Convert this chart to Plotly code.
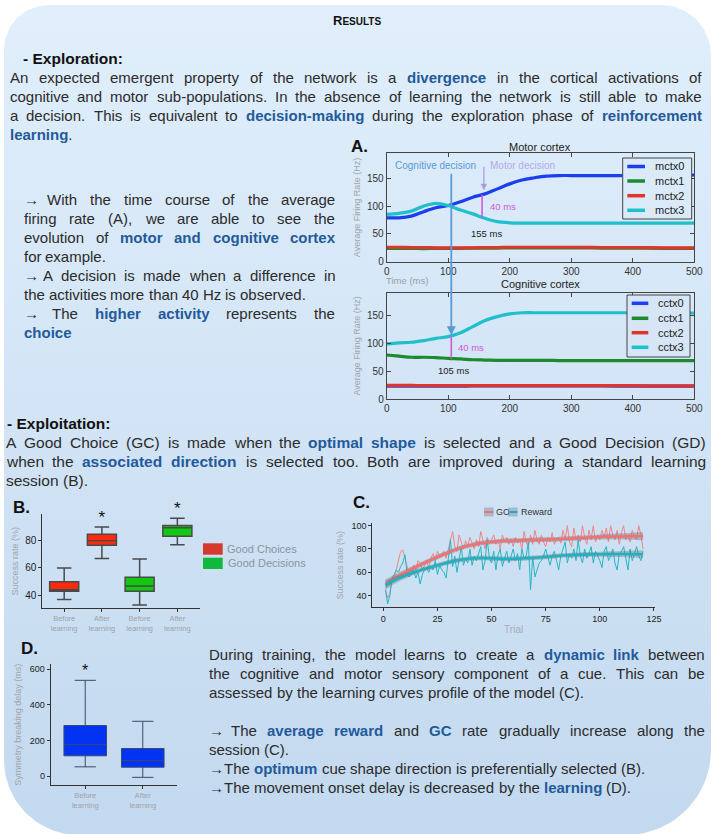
import numpy as np
import plotly.graph_objects as go

W, H = 713, 834
FONT = "Liberation Sans, Arial, DejaVu Sans, sans-serif"
HL = "#245a9a"
TXT = "#2b2b2b"

# -----------------------------------------------------------------------------
# -- A. average firing rates (Hz) over time (ms)
time_ms = [0, 20, 40, 60, 80, 100, 120, 140, 160, 180, 200, 220, 240, 260, 280, 300, 350, 400, 450, 500]
mctx0 = [79, 79, 82, 90, 97, 101, 108, 116, 122, 131, 140, 147, 151, 154, 155, 155, 155, 155, 155, 156]
mctx1 = [24, 24, 24, 23.5, 24, 24, 24, 24.5, 24.5, 24.5, 25, 25, 25, 25, 25, 25, 24.5, 24.5, 24, 24]
mctx2 = [26, 26, 25.5, 25.5, 25, 25, 25, 25, 25.5, 25.5, 26, 26, 26, 26, 26, 26, 25.5, 25.5, 25, 25]
mctx3 = [85, 87, 91, 100, 105, 101, 93, 86, 78, 72, 70, 69.5, 69.5, 69.5, 69.5, 69.5, 69.5, 69.5, 69.5, 69.5]

cctx0 = [23, 23, 23, 23, 23, 23, 23, 23.5, 23.5, 23.5, 23.5, 23.5, 23.5, 23.5, 23.5, 23.5, 23.5, 23, 23, 23]
cctx1 = [79, 77, 75, 75, 74.5, 73, 72, 70.5, 70, 69.5, 69.5, 69.5, 69.5, 69.5, 69, 69, 69, 69, 69, 69]
cctx2 = [24.5, 24.5, 24.5, 24, 24, 24, 24, 24, 24, 24, 24, 24, 24, 24, 24, 24, 24, 24, 23.5, 23.5]
cctx3 = [99, 101, 102, 105, 109, 112, 119, 130, 141, 148, 153, 155, 155, 155, 155, 155, 155, 155, 154.5, 154.5]

cognitive_decision_ms = 105
motor_decision_ms = 155

# -- B. success rates (%) before / after learning
b_labels = ["Before<br>learning", "After<br>learning", "Before<br>learning", "After<br>learning"]
b_low = [37, 67, 33, 77]
b_q1 = [43, 76.6, 43, 83.2]
b_med = [44, 80, 46.8, 89.5]
b_q3 = [50, 84.7, 53.2, 91]
b_high = [60, 90, 66.6, 96.4]
b_signif = [False, True, False, True]

# -- C. learning curves (%) per trial
trials = list(range(1, 121))
gc_raw = [45, 38, 42, 52, 55, 62, 70, 78, 79, 72,
          63, 58, 60, 66, 62, 70, 68, 62, 66, 70,
          64, 72, 76, 70, 78, 74, 76, 78, 72, 80,
          86, 95, 82, 78, 92, 85, 80, 87, 83, 90,
          84, 80, 88, 82, 95, 86, 80, 90, 85, 88,
          92, 84, 88, 80, 92, 86, 90, 84, 88, 82,
          90, 85, 88, 80, 95, 86, 82, 92, 84, 96,
          88, 84, 92, 86, 82, 90, 86, 94, 84, 88,
          90, 85, 96, 88, 100, 86, 82, 98, 88, 92,
          86, 100, 90, 84, 96, 88, 100, 86, 92, 88,
          96, 90, 98, 86, 100, 92, 88, 96, 84, 94,
          100, 88, 92, 86, 96, 90, 88, 100, 92, 80]
reward_raw = [45, 33, 40, 55, 58, 62, 60, 65, 68, 75,
              58, 56, 60, 62, 55, 60, 50, 58, 62, 64,
              60, 65, 62, 70, 58, 66, 62, 60, 55, 70,
              88, 65, 74, 60, 70, 82, 66, 72, 68, 80,
              66, 74, 70, 76, 82, 62, 70, 88, 72, 68,
              78, 62, 75, 80, 65, 72, 78, 68, 74, 80,
              70, 76, 62, 80, 72, 74, 86, 45, 74, 56,
              62, 68, 70, 74, 80, 72, 66, 74, 78, 70,
              62, 74, 80, 86, 68, 76, 72, 80, 70, 88,
              74, 68, 80, 72, 76, 82, 68, 78, 74, 70,
              64, 78, 82, 70, 74, 80, 68, 62, 76, 78,
              82, 72, 62, 80, 70, 76, 82, 74, 70, 78]
fit_trials = [1, 5, 10, 15, 20, 25, 30, 35, 40, 45, 50, 55, 60, 65, 70, 75, 80, 85, 90, 95, 100, 105, 110, 115, 120]
gc_fit = [50, 55, 60, 64.5, 69, 73, 77, 80.5, 83, 85, 86, 86.8, 87.2, 87.5, 87.8, 88, 88.3, 88.8, 89.3, 89.8, 90.3, 90.6, 90.8, 91, 91]
reward_fit = [49, 53, 57, 60.5, 63.5, 66, 68.5, 70.5, 71.8, 72.3, 72, 71.5, 71.5, 72, 72.5, 73.2, 74, 74.6, 75, 75.3, 75.5, 75.6, 75.7, 75.6, 75.5]
fit_ci = [4, 3, 2.5, 2.2, 2, 2, 2, 2, 2, 2, 2, 2, 2, 2, 2, 2, 2, 2, 2, 2, 2.2, 2.4, 2.6, 3, 3.5]

# -- D. symmetry breaking delay (ms)
d_labels = ["Before<br>learning", "After<br>learning"]
d_low = [52, -7]
d_q1 = [114, 50]
d_med = [178, 88]
d_q3 = [284, 155]
d_high = [538, 308]
d_signif = [True, False]

# -- poster text
title_text = "<b>R<span style='font-size:10px'>ESULTS</span></b>"
exploration_lines = [
    "An expected emergent property of the network is a *divergence* in the cortical activations of",
    "cognitive and motor sub-populations. In the absence of learning the network is still able to make",
    "a decision. This is equivalent to *decision-making* during the exploration phase of *reinforcement*",
    "*learning*.",
]
firing_lines = [
    "→ With the time course of the average",
    "firing rate (A), we are able to see the",
    "evolution of *motor and cognitive cortex*",
    "for example.",
    "→ A decision is made when a difference in",
    "the activities more than 40 Hz is observed.",
    "→ The *higher activity* represents the",
    "*choice*",
]
exploitation_lines = [
    "A Good Choice (GC) is made when the *optimal shape* is selected and a Good Decision (GD)",
    "when the *associated direction* is selected too. Both are improved during a standard learning",
    "session (B).",
]
training_lines = [
    "During training, the model learns to create a *dynamic link* between",
    "the cognitive and motor sensory component of a cue. This can be",
    "assessed by the learning curves profile of the model (C).",
    "",
    "→ The *average reward* and *GC* rate gradually increase along the",
    "session (C).",
    "→ The *optimum* cue shape direction is preferentially selected (B).",
    "→ The movement onset delay is decreased by the *learning* (D).",
]

BLUE, GREEN, RED, CYAN = "#1b3ff0", "#1d8a2e", "#e0352b", "#1fc0cc"
GC_COL, RW_COL = "#f07272", "#1fb1bd"
BAND = "rgba(105,115,130,0.38)"
motor_series = [("mctx0", mctx0, BLUE), ("mctx1", mctx1, GREEN), ("mctx2", mctx2, RED), ("mctx3", mctx3, CYAN)]
cog_series = [("cctx0", cctx0, BLUE), ("cctx1", cctx1, GREEN), ("cctx2", cctx2, RED), ("cctx3", cctx3, CYAN)]


def dom_x(a, b):
    return [a / W, b / W]


def dom_y(top, bottom):
    return [1 - bottom / H, 1 - top / H]


# -----------------------------------------------------------------------------
# -- rough Arial advance widths, used to justify the text lines word by word
REG, BLD = {}, {}
for chars, w in [("ijl'", 222), (" ftI.,:;!/", 278), ("r()-", 333), ("*", 389), ("ckvxyzJ", 500), ("s", 500),
                 ("abdeghnopqu0123456789?L", 556), ("FTZ", 611), ("ABEKPSVXY", 667), ("wCDHNRU", 722),
                 ("GOQ", 778), ("mM", 833), ("W", 944)]:
    for c in chars:
        REG[c] = w
for chars, w in [("ijlI .,/", 278), ("ft()-:;", 333), ("r", 389), ("z", 500), ("acekvsxyJ0123456789", 556),
                 ("bdghnopquFTZL", 611), ("EKPSVXY", 667), ("ABCDHNRU", 722), ("wGOQ", 778), ("M", 833),
                 ("m", 889), ("W", 944)]:
    for c in chars:
        BLD[c] = w
ARROW_W = 0.72  # em


def split_words(line):
    words, bold = [], False
    for raw in line.split(" "):
        if not raw:
            continue
        segs, cur = [], ""
        for ch in raw:
            if ch == "*":
                if cur:
                    segs.append((cur, bold))
                cur = ""
                bold = not bold
            else:
                cur += ch
        if cur:
            segs.append((cur, bold))
        words.append(segs)
    return words


def word_html(segs):
    out = ""
    for t, b in segs:
        if b:
            out += f"<b><span style='color:{HL}'>{t}</span></b>"
        else:
            out += t
    return out


def word_width(segs, size):
    w = 0
    for t, b in segs:
        if t == "→":
            w += ARROW_W * 1000
            continue
        table = BLD if b else REG
        w += sum(table.get(c, 556) for c in t)
    return w * size / 1000


def text_block(lines, x0, x1, y0, pitch, size):
    annots = []
    for i, line in enumerate(lines):
        if not line:
            continue
        nxt = lines[i + 1] if i + 1 < len(lines) else ""
        justify = bool(nxt) and not nxt.startswith("→")
        words = split_words(line)
        widths = [word_width(s, size) for s in words]
        gap = 0.278 * size
        if justify and len(words) > 1:
            gap = max((x1 - x0 - sum(widths)) / (len(words) - 1), 0.15 * size)
        x = x0
        y = y0 + i * pitch
        for segs, w in zip(words, widths):
            annots.append(dict(x=x / W, y=1 - y / H, xref="paper", yref="paper", xanchor="left",
                               yanchor="middle", showarrow=False, text=word_html(segs),
                               font=dict(family=FONT, size=size, color=TXT), borderpad=0))
            x += w + gap
    return annots


def rounded_path(x0, y0, x1, y1, r_tl, r_tr, r_br, r_bl, n=24):
    xs, ys = [], []
    corners = [((x0 + r_tl, y0 + r_tl), r_tl, 180, 270), ((x1 - r_tr, y0 + r_tr), r_tr, 270, 360),
               ((x1 - r_br, y1 - r_br), r_br, 0, 90), ((x0 + r_bl, y1 - r_bl), r_bl, 90, 180)]
    for (cx, cy), r, a0, a1 in corners:
        ang = np.radians(np.linspace(a0, a1, n))
        xs += list(cx + r * np.cos(ang))
        ys += list(H - (cy + r * np.sin(ang)))
    return xs + xs[:1], ys + ys[:1]


fig = go.Figure()

# -- poster background with vertical gradient
bg_x, bg_y = rounded_path(4, 5, 711, 835, 45, 50, 85, 75)
fig.add_trace(go.Scatter(x=bg_x, y=bg_y, fill="toself", mode="lines", line=dict(width=0),
                         fillgradient=dict(type="vertical", start=0, stop=H,
                                           colorscale=[[0, "#c3d9ef"], [1, "#e1effc"]]),
                         hoverinfo="skip", showlegend=False, xaxis="x", yaxis="y"))

# -- A. motor / cognitive cortex
for name, vals, col in motor_series:
    fig.add_trace(go.Scatter(x=time_ms, y=vals, name=name, mode="lines", line=dict(color=col, width=3.2, shape="spline"),
                             showlegend=False, xaxis="x2", yaxis="y2"))
for name, vals, col in cog_series:
    fig.add_trace(go.Scatter(x=time_ms, y=vals, name=name, mode="lines", line=dict(color=col, width=3.2, shape="spline"),
                             showlegend=False, xaxis="x3", yaxis="y3"))

# -- B. success rate boxes
b_cols = ["#ff2a0c", "#ff2a0c", "#12c812", "#12c812"]
for i in range(4):
    fig.add_trace(go.Box(x=[i], q1=[b_q1[i]], median=[b_med[i]], q3=[b_q3[i]], lowerfence=[b_low[i]],
                         upperfence=[b_high[i]], width=0.77, fillcolor=b_cols[i],
                         line=dict(color="#4a4a4a", width=1.5), showlegend=False, hoverinfo="skip",
                         xaxis="x4", yaxis="y4"))
b_star_x = [i for i in range(4) if b_signif[i]]
fig.add_trace(go.Scatter(x=b_star_x, y=[b_high[i] for i in b_star_x], mode="text", text=["*"] * len(b_star_x),
                         textposition="top center", textfont=dict(size=17, color="#111", family=FONT),
                         cliponaxis=False, showlegend=False, xaxis="x4", yaxis="y4"))

# -- C. learning curves
fig.add_trace(go.Scatter(x=trials, y=gc_raw, mode="lines", line=dict(color="#f08585", width=1), showlegend=False,
                         xaxis="x5", yaxis="y5"))
fig.add_trace(go.Scatter(x=trials, y=reward_raw, mode="lines", line=dict(color="#25b6c2", width=1), showlegend=False,
                         xaxis="x5", yaxis="y5"))
for fit, col, name in [(gc_fit, GC_COL, "GC"), (reward_fit, RW_COL, "Reward")]:
    lo = [f - c for f, c in zip(fit, fit_ci)]
    hi = [f + c for f, c in zip(fit, fit_ci)]
    fig.add_trace(go.Scatter(x=fit_trials, y=lo, mode="lines", line=dict(width=0, shape="spline"), showlegend=False,
                             hoverinfo="skip", xaxis="x5", yaxis="y5"))
    fig.add_trace(go.Scatter(x=fit_trials, y=hi, mode="lines", line=dict(width=0, shape="spline"), fill="tonexty",
                             fillcolor=BAND, showlegend=False, hoverinfo="skip", xaxis="x5", yaxis="y5"))
    fig.add_trace(go.Scatter(x=fit_trials, y=fit, name=name, mode="lines", line=dict(color=col, width=2.6, shape="spline"),
                             showlegend=False, xaxis="x5", yaxis="y5"))

# -- D. symmetry breaking delay
for i in range(2):
    fig.add_trace(go.Box(x=[i], q1=[d_q1[i]], median=[d_med[i]], q3=[d_q3[i]], lowerfence=[d_low[i]],
                         upperfence=[d_high[i]], width=0.74, fillcolor="#0233f2",
                         line=dict(color="#3a4a6a", width=1), showlegend=False, hoverinfo="skip",
                         xaxis="x6", yaxis="y6"))
d_star_x = [i for i in range(2) if d_signif[i]]
fig.add_trace(go.Scatter(x=d_star_x, y=[d_high[i] for i in d_star_x], mode="text", text=["*"] * len(d_star_x),
                         textposition="top center", textfont=dict(size=16, color="#111", family=FONT),
                         cliponaxis=False, showlegend=False, xaxis="x6", yaxis="y6"))

# -----------------------------------------------------------------------------
# -- axes
frame = dict(showline=True, linecolor="#444", linewidth=1, mirror="ticks", ticks="inside", ticklen=4,
             tickcolor="#444", showgrid=False, zeroline=False, automargin=False,
             tickfont=dict(size=10, color="#333", family=FONT))
open_ax = dict(showline=True, linecolor="#333", linewidth=1, ticks="outside", ticklen=3, tickcolor="#333",
               showgrid=False, zeroline=False, automargin=False, tickfont=dict(size=9, color="#222", family=FONT))
ytitle = lambda t, s: dict(text=t, font=dict(size=9, color="#a0a6ad", family=FONT), standoff=s)
cat_font = dict(size=7.5, color="#9ea3a8", family=FONT)

fig.update_layout(
    width=W, height=H, autosize=False, margin=dict(l=0, r=0, t=0, b=0, pad=0), showlegend=False,
    paper_bgcolor="white", plot_bgcolor="rgba(0,0,0,0)", font=dict(family=FONT),
    xaxis=dict(domain=[0, 1], range=[0, W], visible=False, fixedrange=True, automargin=False),
    yaxis=dict(domain=[0, 1], range=[0, H], visible=False, fixedrange=True, automargin=False),
    xaxis2=dict(frame, domain=dom_x(386.7, 694.3), anchor="y2", range=[0, 500], tickvals=list(range(0, 501, 100))),
    yaxis2=dict(frame, domain=dom_y(153.3, 261.7), anchor="x2", range=[0, 195], tickvals=[0, 50, 100, 150],
                title=ytitle("Average Firing Rate (Hz)", 4)),
    xaxis3=dict(frame, domain=dom_x(386.7, 694.3), anchor="y3", range=[0, 500], tickvals=list(range(0, 501, 100))),
    yaxis3=dict(frame, domain=dom_y(292.7, 399), anchor="x3", range=[0, 191], tickvals=[0, 50, 100, 150],
                title=ytitle("Average Firing Rate (Hz)", 4)),
    xaxis4=dict(open_ax, domain=dom_x(42.3, 200), anchor="y4", range=[-0.58, 3.6], tickvals=[0, 1, 2, 3],
                ticktext=b_labels, tickfont=cat_font),
    yaxis4=dict(open_ax, domain=dom_y(514, 608.3), anchor="x4", range=[30.5, 99.5], tickvals=[40, 60, 80],
                tickfont=dict(size=10, color="#222", family=FONT), title=ytitle("Success rate (%)", 5)),
    xaxis5=dict(open_ax, domain=dom_x(372.3, 655), anchor="y5", range=[-5.1, 125.5],
                tickvals=[0, 25, 50, 75, 100, 125],
                title=dict(text="Trial", font=dict(size=10, color="#a8adb3", family=FONT), standoff=2)),
    yaxis5=dict(open_ax, domain=dom_y(523.3, 607.3), anchor="x5", range=[30, 102], tickvals=[40, 60, 80, 100],
                title=ytitle("Success rate (%)", 6)),
    xaxis6=dict(open_ax, domain=dom_x(50.7, 177.3), anchor="y6", range=[-0.6, 1.6], tickvals=[0, 1],
                ticktext=d_labels, tickfont=cat_font),
    yaxis6=dict(open_ax, domain=dom_y(664.3, 785), anchor="x6", range=[-50, 628], tickvals=[0, 200, 400, 600],
                title=ytitle("Symmetry breaking delay (ms)", 6)),
)

# -----------------------------------------------------------------------------
# -- decision markers in A
m_low = float(np.interp(motor_decision_ms, time_ms, mctx3))
m_high = float(np.interp(motor_decision_ms, time_ms, mctx0))
c_low = float(np.interp(cognitive_decision_ms, time_ms, cctx1))
c_high = float(np.interp(cognitive_decision_ms, time_ms, cctx3))
fig.add_shape(type="line", xref="x2", yref="y2", x0=motor_decision_ms, x1=motor_decision_ms, y0=m_low, y1=m_high,
              line=dict(color="#cf5ad8", width=1.6))
fig.add_shape(type="line", xref="x3", yref="y3", x0=cognitive_decision_ms, x1=cognitive_decision_ms, y0=c_low,
              y1=c_high, line=dict(color="#cf5ad8", width=1.6))

annots = []
annots.append(dict(xref="x3", yref="y3", x=cognitive_decision_ms, y=c_high + 1, ax=0, ay=-163, text="",
                   showarrow=True, arrowhead=2, arrowsize=1, arrowwidth=1.8, arrowcolor="#5a9ad6"))
annots.append(dict(xref="x2", yref="y2", x=motor_decision_ms + 3, y=m_high + 8, ax=0, ay=-25, text="",
                   showarrow=True, arrowhead=2, arrowsize=1, arrowwidth=1.3, arrowcolor="#a99de2"))
small = [
    ("x2", "y2", 10, 172.7, "Cognitive decision", "#5a9ad6", 10, "left"),
    ("x2", "y2", 165, 172.7, "Motor decision", "#b4a9ea", 10, "left"),
    ("x2", "y2", 165, 99, "40 ms", "#cf5ad8", 9.5, "left"),
    ("x2", "y2", 163, 50, "155 ms", "#222", 9.5, "center"),
    ("x3", "y3", 112.6, 92, "40 ms", "#cf5ad8", 9.5, "left"),
    ("x3", "y3", 108, 52, "105 ms", "#222", 9.5, "center"),
]
for xr, yr, x, y, t, c, s, anc in small:
    annots.append(dict(xref=xr, yref=yr, x=x, y=y, text=t, showarrow=False, xanchor=anc, yanchor="middle",
                       font=dict(size=s, color=c, family=FONT)))

paper = [
    (356.5, 20.7, title_text, 13, "#111", "center"),
    (20.5, 58.3, "<b>- Exploration:</b>", 15.5, "#111", "left"),
    (4.6, 423.3, "<b>- Exploitation:</b>", 15.5, "#111", "left"),
    (349, 146.7, "<b>A.</b>", 17, "#111", "left"),
    (10.5, 507.5, "<b>B.</b>", 17, "#111", "left"),
    (350.5, 502, "<b>C.</b>", 17, "#111", "left"),
    (19, 648, "<b>D.</b>", 17, "#111", "left"),
    (540, 146.7, "Motor cortex", 11, "#222", "center"),
    (540, 284.3, "Cognitive cortex", 11, "#222", "center"),
    (384, 280, "Time (ms)", 9.5, "#9aa0a6", "left"),
    (225, 549, "Good Choices", 11, "#8a94a0", "left"),
    (226, 563, "Good Decisions", 11, "#8a94a0", "left"),
]
for x, y, t, s, c, anc in paper:
    annots.append(dict(xref="paper", yref="paper", x=x / W, y=1 - y / H, text=t, showarrow=False, xanchor=anc,
                       yanchor="middle", font=dict(size=s, color=c, family=FONT)))

# -- matplotlib style legend boxes of A (drawn as keys, tighter than plotly legends)
for series, (bx0, by0, bx1, by1), ys, (lx0, lx1, tx), fill in [
        (motor_series, (622.7, 158, 691.7, 219), [166.5, 181, 195.7, 210.3], (627.3, 645, 653), "#daeaf9"),
        (cog_series, (627, 295, 690, 357), [303.3, 318.3, 332.7, 347.3], (631.7, 648.3, 656), "#d6e6f7")]:
    fig.add_shape(type="rect", xref="paper", yref="paper", x0=bx0 / W, x1=bx1 / W, y0=1 - by1 / H, y1=1 - by0 / H,
                  fillcolor=fill, line=dict(color="#444", width=1))
    for (name, _, col), y in zip(series, ys):
        fig.add_shape(type="line", xref="paper", yref="paper", x0=lx0 / W, x1=lx1 / W, y0=1 - y / H, y1=1 - y / H,
                      line=dict(color=col, width=3.5))
        annots.append(dict(xref="paper", yref="paper", x=tx / W, y=1 - y / H, text=name, showarrow=False,
                           xanchor="left", yanchor="middle", font=dict(size=11, color="#222", family=FONT)))

# -- ggplot style key of C
for (kx0, kx1, tx), name, col in [((484, 493.5, 494), "GC", GC_COL), ((508, 517.5, 518.5), "Reward", RW_COL)]:
    fig.add_shape(type="rect", xref="paper", yref="paper", x0=kx0 / W, x1=kx1 / W, y0=1 - 516.5 / H,
                  y1=1 - 507.5 / H, fillcolor=BAND, line=dict(width=0))
    fig.add_shape(type="line", xref="paper", yref="paper", x0=kx0 / W, x1=kx1 / W, y0=1 - 512 / H, y1=1 - 512 / H,
                  line=dict(color=col, width=2))
    annots.append(dict(xref="paper", yref="paper", x=tx / W, y=1 - 512 / H, text=name, showarrow=False,
                       xanchor="left", yanchor="middle", font=dict(size=9, color="#333", family=FONT)))

annots += text_block(exploration_lines, 9, 701, 77.7, 18.8, 15)
annots += text_block(firing_lines, 22.7, 334.3, 199.3, 19.05, 15)
annots += text_block(exploitation_lines, 5, 705, 442.7, 18.8, 15.5)
annots += text_block(training_lines, 208.3, 704, 654, 19, 15)
fig.update_layout(annotations=annots)

# -- colour keys of B
for y0, y1, col in [(543.3, 554.7, "#d63a2e"), (557.7, 569, "#12b83a")]:
    fig.add_shape(type="rect", xref="paper", yref="paper", x0=203 / W, x1=222.7 / W, y0=1 - y1 / H, y1=1 - y0 / H,
                  fillcolor=col, line=dict(width=0))

# the page body has a default 8px margin: drop it so the figure fills the window
fig.write_html("out.html", config={"displayModeBar": False},
               post_script="document.body.style.margin='0';")
